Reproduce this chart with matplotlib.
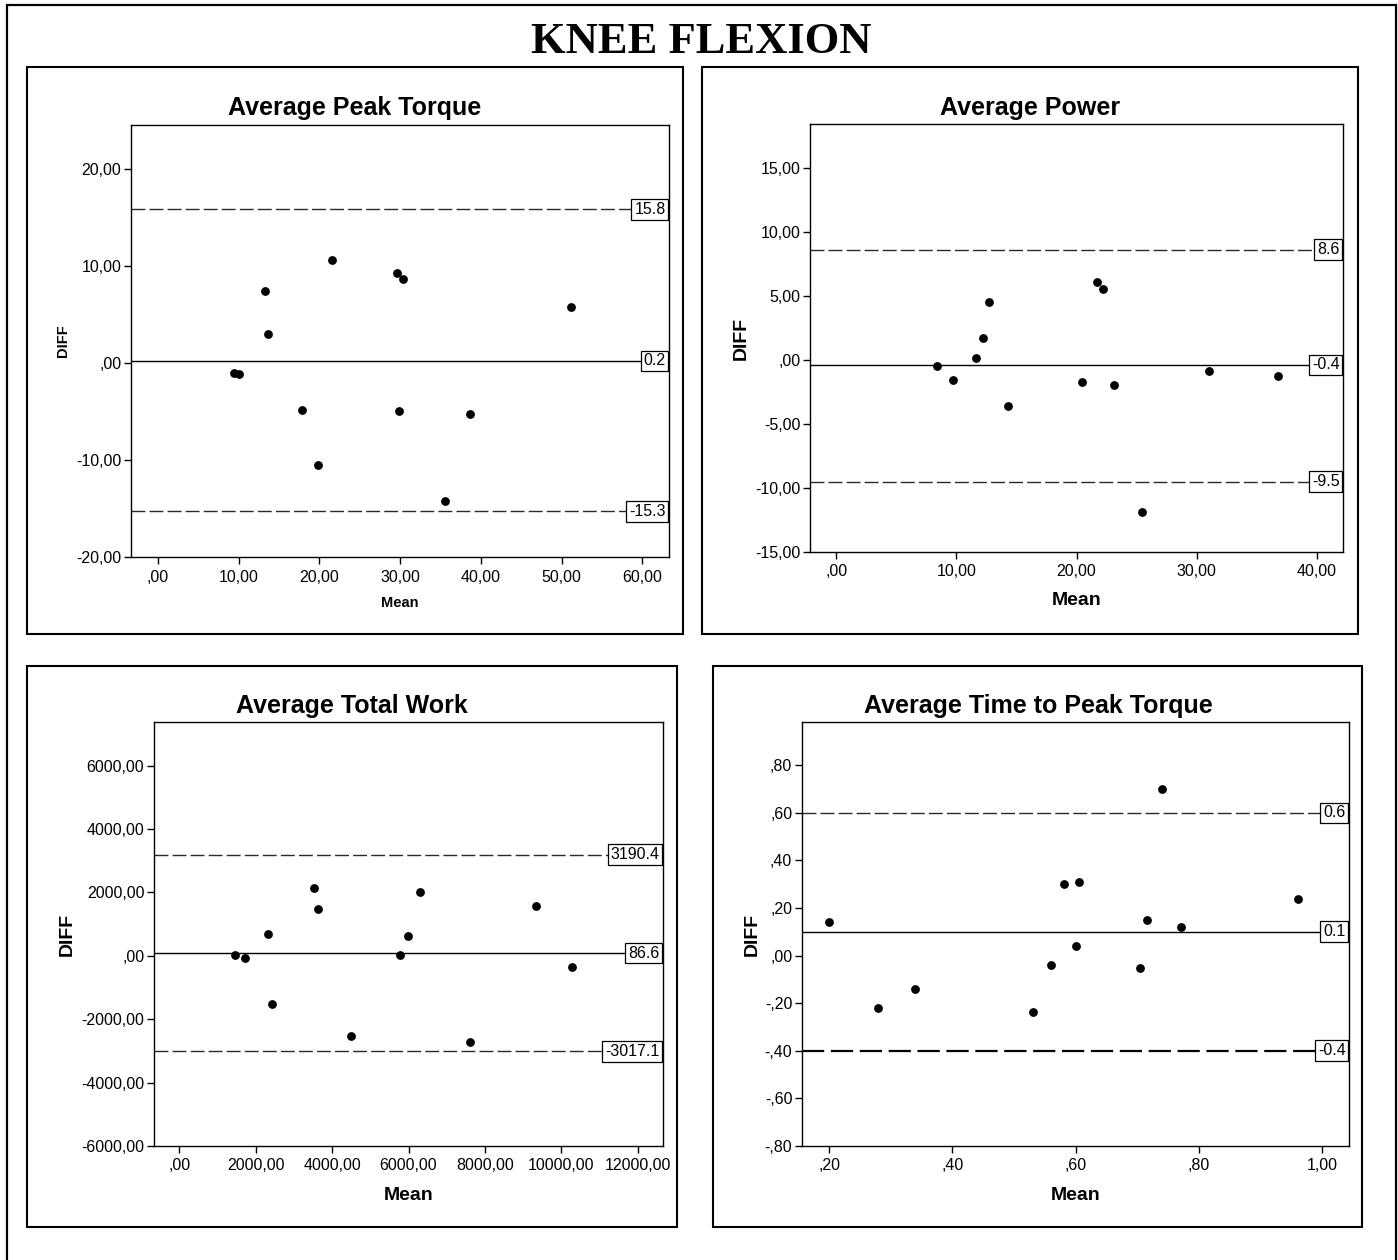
import matplotlib
matplotlib.use("Agg")
import matplotlib.pyplot as plt
from matplotlib.patches import Rectangle
from matplotlib.ticker import FuncFormatter

plt.rcParams['font.family'] = ['Liberation Sans', 'DejaVu Sans']

W, H = 1398, 1260

# ---- data (Bland-Altman: mean vs difference) ----
torque_mean = [9.4, 10.05, 13.3, 13.65, 17.8, 19.8, 21.6, 29.6, 30.3, 29.8, 35.6, 38.7, 51.2]
torque_diff = [-1.0, -1.2, 7.4, 3.0, -4.85, -10.5, 10.6, 9.25, 8.6, -5.0, -14.2, -5.3, 5.8]
torque_limits = [15.8, 0.2, -15.3]

power_mean = [8.36, 9.72, 11.64, 12.17, 12.67, 14.31, 20.43, 21.71, 22.17, 23.13, 25.48, 31.07, 36.76]
power_diff = [-0.46, -1.59, 0.14, 1.73, 4.54, -3.58, -1.76, 6.04, 5.52, -1.99, -11.88, -0.90, -1.30]
power_limits = [8.6, -0.4, -9.5]

work_mean = [1464, 1732, 2324, 2436, 3520, 3620, 4503, 5765, 5989, 6302, 7598, 9341, 10291]
work_diff = [23, -70, 689, -1506, 2148, 1494, -2534, 12, 619, 2020, -2732, 1564, -339]
work_limits = [3190.4, 86.6, -3017.1]

ttp_mean = [0.200, 0.280, 0.340, 0.531, 0.561, 0.581, 0.601, 0.605, 0.705, 0.716, 0.741, 0.771, 0.961]
ttp_diff = [0.140, -0.219, -0.140, -0.238, -0.039, 0.302, 0.040, 0.311, -0.050, 0.151, 0.702, 0.121, 0.240]
ttp_limits = [0.6, 0.1, -0.4]


def spss_fmt(v, pos=None):
    s = f"{round(v, 6) + 0.0:.2f}".replace('.', ',')
    if s.startswith('0,'):
        s = s[1:]
    elif s.startswith('-0,'):
        s = '-' + s[2:]
    return s


def px_rect(l, t, r, b):
    return [l / W, 1 - b / H, (r - l) / W, (b - t) / H]


fig = plt.figure(figsize=(W / 100, H / 100), dpi=100)

# outer border and title
fig.patches.append(Rectangle((7 / W, -0.01), (1396 - 7) / W, 1.01 - 5 / H,
                             transform=fig.transFigure, fill=False, ec='black', lw=1.6))
fig.text(701 / W, 1 - 42 / H, 'KNEE FLEXION', ha='center', va='center',
         family=['Liberation Serif', 'DejaVu Serif'], weight='bold', fontsize=32)

panels = [
    dict(title='Average Peak Torque', frame=(27, 67, 683, 634), ax=(131, 125, 669, 557),
         x=torque_mean, y=torque_diff, lim=torque_limits, labels=['15.8', '0.2', '-15.3'],
         xlim=(-3.33, 63.3), ylim=(-20, 24.5), xt=[0, 10, 20, 30, 40, 50, 60],
         yt=[-20, -10, 0, 10, 20], lab_fs=10.5, diffx=-0.126, meany=-0.106, tx=355, ty=108),
    dict(title='Average Power', frame=(702, 67, 1358, 634), ax=(810, 124, 1343, 552),
         x=power_mean, y=power_diff, lim=power_limits, labels=['8.6', '-0.4', '-9.5'],
         xlim=(-2.2, 42.2), ylim=(-15, 18.4), xt=[0, 10, 20, 30, 40],
         yt=[-15, -10, -5, 0, 5, 10, 15], lab_fs=14, diffx=-0.129, meany=-0.114, tx=1030, ty=108),
    dict(title='Average Total Work', frame=(27, 666, 677, 1227), ax=(154, 722, 663, 1146),
         x=work_mean, y=work_diff, lim=work_limits, labels=['3190.4', '86.6', '-3017.1'],
         xlim=(-659, 12659), ylim=(-6000, 7380), xt=[0, 2000, 4000, 6000, 8000, 10000, 12000],
         yt=[-6000, -4000, -2000, 0, 2000, 4000, 6000], lab_fs=14, diffx=-0.171, meany=-0.116,
         tx=352, ty=706),
    dict(title='Average Time to Peak Torque', frame=(713, 666, 1362, 1227), ax=(802, 722, 1349, 1146),
         x=ttp_mean, y=ttp_diff, lim=ttp_limits, labels=['0.6', '0.1', '-0.4'],
         xlim=(0.156, 1.044), ylim=(-0.8, 0.982), xt=[0.2, 0.4, 0.6, 0.8, 1.0],
         yt=[-0.8, -0.6, -0.4, -0.2, 0.0, 0.2, 0.4, 0.6, 0.8], lab_fs=14, diffx=-0.091,
         meany=-0.116, tx=1038, ty=706),
]

for i, p in enumerate(panels):
    l, t, r, b = p['frame']
    fig.patches.append(Rectangle((l / W, 1 - b / H), (r - l) / W, (b - t) / H,
                                 transform=fig.transFigure, fill=False, ec='black', lw=1.5))
    fig.text(p['tx'] / W, 1 - p['ty'] / H, p['title'], ha='center', va='center',
             fontsize=18, weight='bold')

    ax = fig.add_axes(px_rect(*p['ax']))
    ax.scatter(p['x'], p['y'], s=40, color='black', zorder=3, linewidths=0)

    up, mid, low = p['lim']
    low_lw = 1.6 if i == 3 else 1.0
    low_col = 'black' if i == 3 else '#2a2a2a'
    ax.axhline(up, color='#2a2a2a', lw=1.0, dashes=(10, 3))
    ax.axhline(mid, color='black', lw=1.0)
    ax.axhline(low, color=low_col, lw=low_lw, dashes=(10, 3))
    for val, txt in zip(p['lim'], p['labels']):
        ax.annotate(txt, xy=(1, val), xycoords=('axes fraction', 'data'),
                    xytext=(-2.5, 0), textcoords='offset points', ha='right', va='center',
                    fontsize=11.5, zorder=5,
                    bbox=dict(boxstyle='square,pad=0.18', fc='white', ec='black', lw=0.9))

    ax.set_xlim(*p['xlim'])
    ax.set_ylim(*p['ylim'])
    ax.set_xticks(p['xt'])
    ax.set_yticks(p['yt'])
    ax.xaxis.set_major_formatter(FuncFormatter(spss_fmt))
    ax.yaxis.set_major_formatter(FuncFormatter(spss_fmt))
    ax.tick_params(direction='out', length=5, width=1, labelsize=11.5, pad=2)
    ax.tick_params(axis='x', pad=4)
    for sp in ax.spines.values():
        sp.set_linewidth(1.0)

    ax.text(p['diffx'], 0.5, 'DIFF', transform=ax.transAxes, rotation=90,
            ha='center', va='center', fontsize=p['lab_fs'], weight='bold')
    ax.text(0.5, p['meany'], 'Mean', transform=ax.transAxes,
            ha='center', va='center', fontsize=p['lab_fs'], weight='bold')

fig.savefig('out.png', dpi=100)
